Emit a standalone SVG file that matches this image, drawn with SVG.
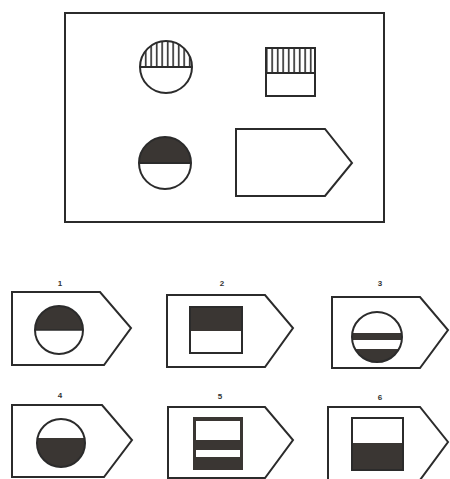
<svg xmlns="http://www.w3.org/2000/svg" width="450" height="479" viewBox="0 0 450 479">
<defs>
<pattern id="vh" patternUnits="userSpaceOnUse" width="5.5" height="10" x="0" y="0">
<line x1="2.7" y1="0" x2="2.7" y2="10" stroke="#2a2a2a" stroke-width="1.6"/>
</pattern>
<clipPath id="c1"><circle cx="166" cy="67" r="26"/></clipPath>
<clipPath id="c2"><circle cx="165" cy="163" r="26"/></clipPath>
<clipPath id="o1"><circle cx="59" cy="330" r="24"/></clipPath>
<clipPath id="o3"><circle cx="377" cy="337" r="25"/></clipPath>
<clipPath id="o4"><circle cx="61" cy="443" r="24"/></clipPath>
</defs>
<style>
.ln{fill:none;stroke:#2b2b2b;stroke-width:2;stroke-linejoin:miter}
.wh{fill:#fff;stroke:#2b2b2b;stroke-width:2}
.dk{fill:#3a3633;stroke:none}
.lb{font-family:"Liberation Sans",Arial,sans-serif;font-size:8px;font-weight:bold;fill:#333;text-anchor:middle}
</style>
<rect width="450" height="479" fill="#fff"/>
<g id="frame">
<rect x="65" y="13" width="319" height="209" class="ln"/>
</g>
<g id="q1">
<rect x="140" y="41" width="52" height="26" fill="url(#vh)" clip-path="url(#c1)"/>
<line x1="140" y1="67" x2="192" y2="67" stroke="#2b2b2b" stroke-width="2"/>
<circle cx="166" cy="67" r="26" class="ln"/>
</g>
<g id="q2">
<rect x="266" y="48" width="49" height="25" fill="url(#vh)"/>
<line x1="266" y1="73" x2="315" y2="73" stroke="#2b2b2b" stroke-width="2"/>
<rect x="266" y="48" width="49" height="48" class="ln"/>
</g>
<g id="q3">
<rect x="139" y="137" width="52" height="26" class="dk" clip-path="url(#c2)"/>
<line x1="139" y1="163" x2="191" y2="163" stroke="#2b2b2b" stroke-width="2"/>
<circle cx="165" cy="163" r="26" class="ln"/>
</g>
<g id="q4">
<polygon points="236,129 325,129 352,163 325,196 236,196" class="ln"/>
</g>
<g id="opt1">
<text x="60" y="286" class="lb">1</text>
<polygon points="12,292 100,292 131,328 104,365 12,365" class="ln"/>
<rect x="35" y="306" width="48" height="24" class="dk" clip-path="url(#o1)"/>
<line x1="35" y1="330" x2="83" y2="330" stroke="#2b2b2b" stroke-width="1.5"/>
<circle cx="59" cy="330" r="24" class="ln"/>
</g>
<g id="opt2">
<text x="222" y="286" class="lb">2</text>
<polygon points="167,295 265,295 293,328 265,367 167,367" class="ln"/>
<rect x="190" y="307" width="52" height="24" class="dk"/>
<rect x="190" y="307" width="52" height="46" class="ln"/>
</g>
<g id="opt3">
<text x="380" y="286" class="lb">3</text>
<polygon points="332,297 420,297 448,330 420,368 332,368" class="ln"/>
<g clip-path="url(#o3)">
<rect x="352" y="333" width="50" height="7" class="dk"/>
<rect x="352" y="349" width="50" height="14" class="dk"/>
</g>
<circle cx="377" cy="337" r="25" class="ln"/>
</g>
<g id="opt4">
<text x="60" y="398" class="lb">4</text>
<polygon points="12,405 102,405 132,440 104,477 12,477" class="ln"/>
<rect x="37" y="438" width="48" height="30" class="dk" clip-path="url(#o4)"/>
<circle cx="61" cy="443" r="24" class="ln"/>
</g>
<g id="opt5">
<text x="220" y="399" class="lb">5</text>
<polygon points="168,407 265,407 293,440 265,478 168,478" class="ln"/>
<rect x="193" y="417" width="50" height="53" class="dk"/>
<rect x="196" y="421" width="44" height="19" fill="#fff"/>
<rect x="196" y="450" width="44" height="7" fill="#fff"/>
</g>
<g id="opt6">
<text x="380" y="400" class="lb">6</text>
<polygon points="328,407 420,407 448,442 420,480 328,480" class="ln"/>
<rect x="352" y="443" width="51" height="27" class="dk"/>
<rect x="352" y="418" width="51" height="52" class="ln"/>
</g>
</svg>
